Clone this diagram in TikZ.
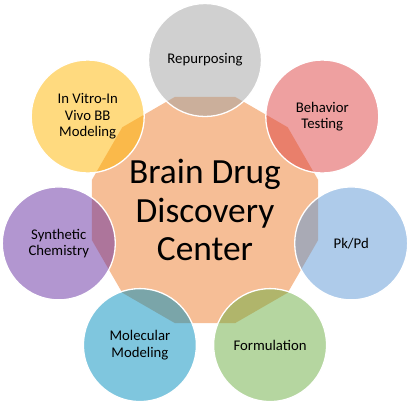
\documentclass[tikz,border=0pt]{standalone}
\usepackage{fontspec}
\setmainfont{Carlito}
\usetikzlibrary{shapes.geometric}
\definecolor{peach}{RGB}{246,190,150}
\definecolor{cgrey}{RGB}{161,161,161}
\definecolor{cred}{RGB}{221,65,65}
\definecolor{cblue}{RGB}{93,151,213}
\definecolor{cgreen}{RGB}{107,173,65}
\definecolor{cteal}{RGB}{0,141,189}
\definecolor{cpurple}{RGB}{101,45,161}
\definecolor{cyellow}{RGB}{255,181,0}
\tikzset{
  hub/.style={regular polygon, regular polygon sides=12, minimum size=234bp, inner sep=0pt,
    fill=peach, align=center, font=\fontsize{35.5}{38.5}\selectfont},
  sat/.style={circle, minimum size=113bp, inner sep=0pt, draw=white, line width=1.3bp,
    fill opacity=0.5, text opacity=1, align=center, font=\fontsize{14.8}{16.4}\selectfont}
}
\begin{document}
\begin{tikzpicture}[x=1bp,y=-1bp]
\useasboundingbox (0,0) rectangle (414,402);
\node[hub] (hub) at (205,210) {Brain Drug\\Discovery\\Center};
\node[sat, fill=cgrey] (rep) at (205,60) {Repurposing};
\node[sat, fill=cred] (beh) at (322.3,116.5) {Behavior\\Testing};
\node[sat, fill=cblue] (pk) at (351.2,243.4) {Pk/Pd};
\node[sat, fill=cgreen] (form) at (270.1,345.1) {Formulation};
\node[sat, fill=cteal] (mol) at (139.9,345.1) {Molecular\\Modeling};
\node[sat, fill=cpurple] (syn) at (58.8,243.4) {Synthetic\\Chemistry};
\node[sat, fill=cyellow] (vit) at (87.7,116.5) {In Vitro-In\\Vivo BB\\Modeling};
\end{tikzpicture}
\end{document}
